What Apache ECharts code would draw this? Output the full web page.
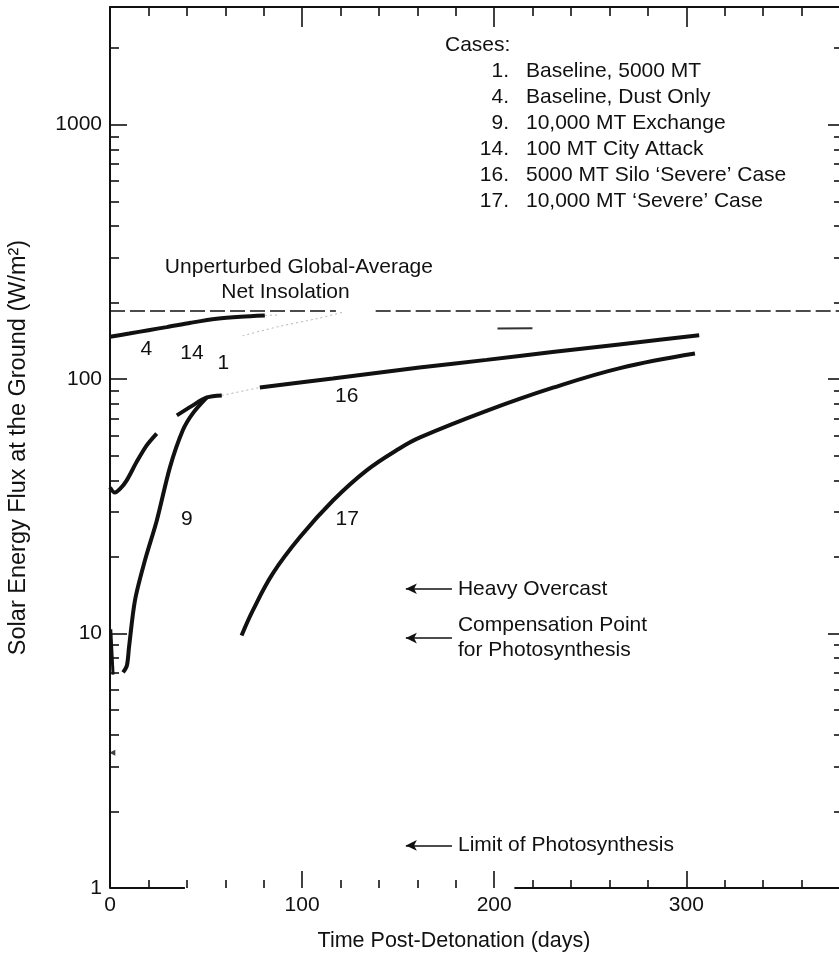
<!DOCTYPE html>
<html><head><meta charset="utf-8">
<script src="https://cdn.jsdelivr.net/npm/echarts@6/dist/echarts.min.js"></script>
<style>html,body{margin:0;padding:0;background:#fff}#c{width:839px;height:953px}</style>
</head><body><div id="c"></div>
<script>
const FONT = 'Liberation Sans';
const INK = '#111';
const FS = 21;

// axis ranges and ticks
const X_MAX = 380, Y_MIN = 1, Y_MAX = 2900;
const xMajorTicks = [0, 100, 200, 300];
const xMinorTicks = [20, 40, 60, 80, 120, 140, 160, 180, 220, 240, 260, 280, 320, 340, 360];
const yMajorTicks = [1, 10, 100, 1000];
const yMinorTicks = [2, 3, 4, 5, 6, 7, 8, 9, 20, 30, 40, 50, 60, 70, 80, 90,
  200, 300, 400, 500, 600, 700, 800, 900, 2000];

// curves: [days, W/m^2]
const case4 = [[0, 146.6], [10, 151], [20, 155.7], [29.5, 160.1], [42, 166.5], [55.5, 172.7], [68, 176], [80.6, 178]];
const case4Faded = [[80.6, 178], [87, 178.5]];
const case16a = [[0, 37.5], [2.5, 35.8], [5.2, 37], [8.7, 40], [13.9, 47.3], [19.1, 54.9], [24.3, 61.1]];
const case16b = [[34.8, 72.0], [42.5, 78.3], [50.4, 84.7], [58.2, 86.3]];
const case16Faded = [[58.2, 86.3], [78, 92.7]];
const case16c = [[78, 92.7], [115.9, 100.5], [161.1, 111.1], [196, 119], [230.3, 127.7], [265.1, 136.9], [306.7, 148.6]];
const case9 = [[6.8, 7.04], [8.8, 7.49], [9.9, 8.83], [13.0, 13.5], [18.2, 19.4], [24.4, 27.9], [31.2, 45.0], [37.9, 62.9], [43.1, 73.3], [50.4, 84.7]];
const case17 = [[68.5, 9.82], [74.3, 12.3], [84.7, 17.2], [98.8, 23.9], [116.2, 33.4], [133.6, 43.8], [150.9, 53.5], [161.4, 59], [196, 75], [230.6, 92.5], [265.5, 110.5], [304.5, 126]];
const fadedCurve = [[69, 148], [88, 161], [108, 173], [121, 183]];
const fadedSegment = [[201.7, 158.2], [219.9, 158.4]];
const earlySpike = [[0.4, 10.4], [1.6, 6.9]];
const earlyMark = [[1.2, 3.4]];

// unperturbed insolation (dashed), drawn with a gap as in the original
const insolation = 185;
const insolationLine = [[0, insolation], [117.6, insolation], [118, '-'], [138.3, insolation], [X_MAX, insolation]];
// bottom frame line (broken in the original)
const baseLine = [[0, 1], [39, 1], [40, '-'], [210.5, 1], [X_MAX, 1]];

// curve number labels
const curveLabelText = ['4', '14', '1', '16', '9', '17'];
const curveLabelX = [19.2, 42.9, 59.3, 123.5, 40.3, 123.7];
const curveLabelY = [130.8, 125.8, 115.3, 85, 27.9, 28.1];

// insolation caption
const captionText = ['Unperturbed Global-Average', 'Net Insolation'];
const captionX = [98.6, 91.6];
const captionY = [274.8, 219.1];

// arrow references
const refNames = ['Heavy Overcast', 'Compensation Point\nfor Photosynthesis', 'Limit of Photosynthesis'];
const refLevels = [15, 9.6, 1.47];
const refArrowFrom = 154, refArrowTo = 178;

// legend
const caseNumbers = ['1.', '4.', '9.', '14.', '16.', '17.'];
const caseNames = ['Baseline, 5000 MT', 'Baseline, Dust Only', '10,000 MT Exchange', '100 MT City Attack',
  '5000 MT Silo \u2018Severe\u2019 Case', '10,000 MT \u2018Severe\u2019 Case'];

const LOG_MAX = Math.log10(Y_MAX);
const txt = { fontFamily: FONT, fontSize: FS, color: INK, fontWeight: 'normal' };
const tickLine = { color: INK, width: 1.6 };

function xTickAxis(pos, len, vals) {
  return { type: 'value', position: pos, min: 0, max: X_MAX, axisLine: { show: false, onZero: false },
    axisTick: { show: true, inside: true, length: len, customValues: vals, lineStyle: tickLine },
    axisLabel: { show: false }, splitLine: { show: false } };
}
function yTickAxis(pos, len, vals) {
  return { type: 'value', position: pos, min: 0, max: LOG_MAX, axisLine: { show: false, onZero: false },
    axisTick: { show: true, inside: true, length: len, customValues: vals.map(v => Math.log10(v)), lineStyle: tickLine },
    axisLabel: { show: false }, splitLine: { show: false } };
}
function curve(data, width, extra) {
  return Object.assign({ type: 'line', data: data, xAxisIndex: 0, yAxisIndex: 0, showSymbol: false, symbol: 'none',
    smooth: 0.3, lineStyle: { color: INK, width: width }, silent: true, z: 3 }, extra || {});
}
function faded(data) {
  return curve(data, 1, { smooth: 0.3, lineStyle: { color: '#b5b5b5', width: 1, type: [2, 3] }, z: 2 });
}
function textPoints(texts, xs, ys) {
  return { type: 'scatter', silent: true, symbol: 'circle', symbolSize: 1, itemStyle: { color: 'rgba(255,255,255,0)' },
    data: texts.map((t, i) => ({ value: [xs[i], ys[i]], label: { formatter: t } })),
    label: Object.assign({ show: true, position: [0, 0], align: 'center', verticalAlign: 'middle',
      textBorderWidth: 0, opacity: 1 }, txt), z: 4 };
}

const chart = echarts.init(document.getElementById('c'), null, { renderer: 'canvas' });
const labelsSeries = textPoints(curveLabelText, curveLabelX, curveLabelY);
const captionSeries = textPoints(captionText, captionX, captionY);
captionSeries.markLine = {
  silent: true, symbol: ['arrow', 'none'], symbolSize: [8, 11], animation: false,
  lineStyle: { color: INK, width: 1.5, type: 'solid' },
  label: Object.assign({ show: true, position: 'end', distance: 6, lineHeight: 25 }, txt),
  data: refNames.map((n, i) => [
    { coord: [refArrowFrom, refLevels[i]],
      label: { formatter: n, padding: n.indexOf('\n') >= 0 ? [25, 0, 0, 0] : 0 } },
    { coord: [refArrowTo, refLevels[i]] }
  ])
};

chart.setOption({
  animation: false,
  backgroundColor: '#fff',
  textStyle: { fontFamily: FONT },
  title: [
    { text: 'Cases:', left: 445, top: 32, padding: 0, textAlign: 'left', textVerticalAlign: 'top',
      textStyle: Object.assign({ lineHeight: 26 }, txt) },
    { text: caseNumbers.join('\n'), left: 509, top: 58, padding: 0, textAlign: 'right', textVerticalAlign: 'top',
      textStyle: Object.assign({ lineHeight: 26 }, txt) },
    { text: caseNames.join('\n'), left: 526, top: 58, padding: 0, textAlign: 'left', textVerticalAlign: 'top',
      textStyle: Object.assign({ lineHeight: 26 }, txt) }
  ],
  grid: { left: 110, right: -1, top: 7, bottom: 65, containLabel: false, outerBoundsMode: 'none' },
  xAxis: [
    { type: 'value', position: 'bottom', min: 0, max: X_MAX, axisLine: { show: false, onZero: false },
      axisTick: { show: true, inside: true, length: 17, customValues: xMajorTicks, lineStyle: tickLine },
      axisLabel: Object.assign({ customValues: xMajorTicks, margin: 7 }, txt),
      splitLine: { show: false },
      name: 'Time Post-Detonation (days)', nameLocation: 'middle', nameGap: 42,
      nameTextStyle: Object.assign({}, txt, { fontSize: 21.5, padding: [0, 42, 0, 0] }) },
    xTickAxis('bottom', 8, xMinorTicks),
    Object.assign(xTickAxis('top', 20, xMajorTicks), { axisLine: { show: true, onZero: false, lineStyle: { color: INK, width: 2 } } }),
    xTickAxis('top', 9, xMinorTicks)
  ],
  yAxis: [
    { type: 'log', position: 'left', min: Y_MIN, max: Y_MAX, logBase: 10,
      axisLine: { show: true, onZero: false, lineStyle: { color: INK, width: 2 } },
      axisTick: { show: false },
      axisLabel: Object.assign({ margin: 8, showMaxLabel: false, formatter: v => String(Math.round(v)) }, txt),
      splitLine: { show: false },
      name: 'Solar Energy Flux at the Ground (W/m\u00B2)', nameLocation: 'middle', nameGap: 79,
      nameTextStyle: Object.assign({}, txt, { fontSize: 23.5 }) },
    yTickAxis('left', 17, yMajorTicks),
    yTickAxis('left', 9, yMinorTicks),
    { type: 'log', position: 'right', min: Y_MIN, max: Y_MAX, logBase: 10,
      axisLine: { show: true, onZero: false, lineStyle: { color: INK, width: 2 } }, axisTick: { show: false },
      axisLabel: { show: false }, splitLine: { show: false } },
    yTickAxis('right', 12, yMajorTicks),
    yTickAxis('right', 6, yMinorTicks)
  ],
  series: [
    curve(insolationLine, 1.5, { smooth: false, lineStyle: { color: INK, width: 1.5, type: [15, 5] } }),
    curve(baseLine, 2, { smooth: false, clip: false }),
    curve(case4, 4),
    faded(case4Faded),
    curve(case16a, 4),
    curve(case16b, 4),
    faded(case16Faded),
    curve(case16c, 4, { smooth: 0.2 }),
    curve(case9, 4),
    curve(case17, 4, { smooth: 0.4 }),
    faded(fadedCurve),
    curve(fadedSegment, 2, { smooth: false, lineStyle: { color: '#333', width: 2 } }),
    curve(earlySpike, 3, { smooth: false, clip: false }),
    { type: 'scatter', data: earlyMark, symbol: 'triangle', symbolSize: 6, symbolRotate: 90,
      itemStyle: { color: INK }, silent: true, clip: false },
    labelsSeries,
    captionSeries
  ]
});
</script>
</body></html>
